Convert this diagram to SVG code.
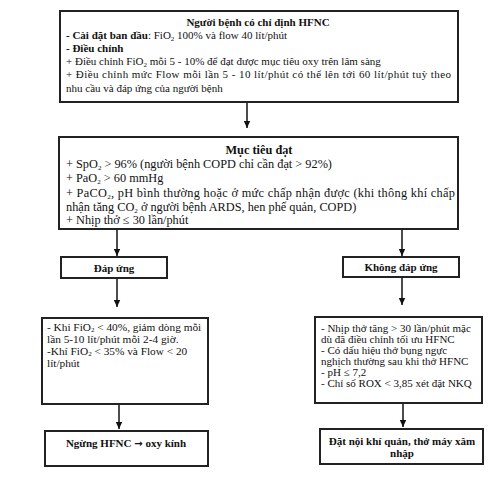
<svg xmlns="http://www.w3.org/2000/svg" width="500" height="477" viewBox="0 0 500 477">
<style>
.box{fill:#fff;stroke:#222;stroke-width:2}
text{font-family:"Liberation Serif","Times New Roman",serif;fill:#111;font-size:11px}
.b{font-weight:bold}
.m{text-anchor:middle}
.big{font-size:12.3px}
.l{font-size:11.3px}
.sub{font-size:7px;baseline-shift:-1.5px}
.sub2{font-size:7px;baseline-shift:-1px}
.con{stroke:#111;stroke-width:1.5;fill:none}
</style>
<defs>
<marker id="ah" markerUnits="userSpaceOnUse" markerWidth="8" markerHeight="8" refX="7" refY="4" orient="auto">
<path d="M0,0.8 L7,4 L0,7.2 Z" fill="#111"/>
</marker>
</defs>
<rect width="500" height="477" fill="#fff"/>
<g id="connectors">
<line class="con" x1="247" y1="102" x2="247" y2="128" marker-end="url(#ah)"/>
<line class="con" x1="117" y1="229" x2="117" y2="256" marker-end="url(#ah)"/>
<line class="con" x1="402" y1="229" x2="402" y2="256" marker-end="url(#ah)"/>
<line class="con" x1="117" y1="279" x2="117" y2="307" marker-end="url(#ah)"/>
<line class="con" x1="402" y1="278" x2="402" y2="305" marker-end="url(#ah)"/>
<line class="con" x1="119" y1="404" x2="119" y2="429" marker-end="url(#ah)"/>
<line class="con" x1="403" y1="403" x2="403" y2="427" marker-end="url(#ah)"/>
</g>
<g id="start">
<rect class="box" x="60" y="11" width="398" height="91"/>
<text class="b m" x="258" y="25.5">Người bệnh có chỉ định HFNC</text>
<text x="66" y="38.7"><tspan class="b">- Cài đặt ban đầu</tspan>: FiO<tspan class="sub">2</tspan> 100% và flow 40 lít/phút</text>
<text class="b" x="66" y="51.9">- Điều chỉnh</text>
<text x="66" y="65.1">+ Điều chỉnh FiO<tspan class="sub">2</tspan> mỗi 5 - 10% để đạt được mục tiêu oxy trên lâm sàng</text>
<text x="66" y="78.3" textLength="385" lengthAdjust="spacing">+ Điều chỉnh mức Flow mỗi lần 5 - 10 lít/phút có thể lên tới 60 lít/phút tuỳ theo</text>
<text x="66" y="91.5">nhu cầu và đáp ứng của người bệnh</text>
</g>
<g id="target">
<rect class="box" x="59" y="137" width="399" height="92"/>
<text class="b m big" x="259" y="153.5">Mục tiêu đạt</text>
<text class="big" x="66" y="167.5">+ SpO<tspan class="sub">2</tspan> &gt; 96% (người bệnh COPD chỉ cần đạt &gt; 92%)</text>
<text class="big" x="66" y="181.5">+ PaO<tspan class="sub">2</tspan> &gt; 60 mmHg</text>
<text class="big" x="66" y="196.5" textLength="389" lengthAdjust="spacing">+ PaCO<tspan class="sub">2</tspan>, pH bình thường hoặc ở mức chấp nhận được (khi thông khí chấp</text>
<text class="big" x="66" y="210.5">nhận tăng CO<tspan class="sub">2</tspan> ở người bệnh ARDS, hen phế quản, COPD)</text>
<text class="big" x="66" y="224">+ Nhịp thở ≤ 30 lần/phút</text>
</g>
<g id="response">
<rect class="box" x="61" y="257" width="106" height="21"/>
<text class="b m" x="114" y="271.5">Đáp ứng</text>
</g>
<g id="noresponse">
<rect class="box" x="343" y="257" width="116" height="20"/>
<text class="b m" x="401" y="271">Không đáp ứng</text>
</g>
<g id="wean">
<rect class="box" x="42" y="318" width="166" height="86"/>
<text class="l" x="47" y="331">- Khi FiO<tspan class="sub2">2</tspan> &lt; 40%, giảm dòng mỗi</text>
<text class="l" x="47" y="343">lần 5-10 lít/phút mỗi 2-4 giờ.</text>
<text class="l" x="47" y="355">-Khí FiO<tspan class="sub2">2</tspan>  &lt; 35% và Flow &lt; 20</text>
<text class="l" x="47" y="367">lít/phút</text>
</g>
<g id="fail">
<rect class="box" x="315" y="317" width="167" height="86"/>
<text x="321" y="331.5">- Nhịp thở tăng &gt; 30 lần/phút mặc</text>
<text x="321" y="342.5">dù đã điều chỉnh tối ưu HFNC</text>
<text x="321" y="353.5">- Có dấu hiệu thở bụng ngực</text>
<text x="321" y="364.5">nghịch thường sau khi thở HFNC</text>
<text x="321" y="375.5">- pH ≤ 7,2</text>
<text x="321" y="386.5">- Chỉ số ROX &lt; 3,85 xét đặt NKQ</text>
</g>
<g id="stop">
<rect class="box" x="45" y="431" width="163" height="35"/>
<text class="b m" x="126" y="446.5">Ngừng HFNC <tspan style="font-family:'DejaVu Sans',sans-serif;font-size:10px">→</tspan> oxy kính</text>
</g>
<g id="intubate">
<rect class="box" x="320" y="429" width="163" height="35"/>
<text class="b m" x="402" y="444.5">Đặt nội khí quản, thở máy xâm</text>
<text class="b m" x="402" y="457">nhập</text>
</g>
</svg>
